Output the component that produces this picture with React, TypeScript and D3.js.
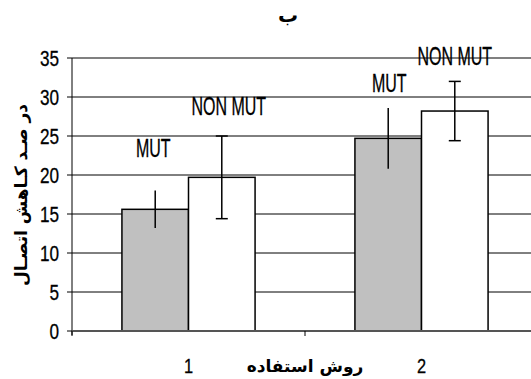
import React from 'react';
import * as d3 from 'd3';

const width = 531;
const height = 379;
const margin = { top: 58, right: -7, bottom: 48, left: 72 };

// data
const categories = ['1', '2'];
const seriesNames = ['MUT', 'NON MUT'];
const mutValues = [15.6, 24.7];
const nonMutValues = [19.7, 28.2];
const mutErrors = [2.4, 3.9];
const nonMutErrors = [5.3, 3.8];
const yTicks = [0, 5, 10, 15, 20, 25, 30, 35];

const title = 'ب';
const yTitle = 'در صـد کـاهش اتصـال';
const xTitle = 'روش استفاده';

const series = [
  { name: seriesNames[0], values: mutValues, errors: mutErrors, fill: '#c0c0c0', caps: false },
  { name: seriesNames[1], values: nonMutValues, errors: nonMutErrors, fill: '#ffffff', caps: true },
];
// label placement: pixels above the error bar top, and x shift
const labelLift = [[34, 21], [16, 16]];
const labelShift = [[-2, 7], [1, 0]];

const font = '"Liberation Sans", Arial, sans-serif';
const arabicFont = '"DejaVu Sans", sans-serif';

// Arial Narrow look: squeeze the text horizontally
const Narrow = ({ x, y, size, squeeze, anchor, children }: any) => (
  <g transform={`translate(${x},${y}) scale(${squeeze},1)`}>
    <text textAnchor={anchor || 'middle'} fontFamily={font} fontSize={size} stroke="#000" strokeWidth={0.3}>{children}</text>
  </g>
);

const App = () => {
  const plotW = width - margin.left - margin.right;
  const x0 = d3.scaleBand().domain(categories).range([margin.left, margin.left + plotW]).padding(0);
  const x1 = d3.scaleBand().domain(seriesNames).range([0, x0.bandwidth()]).paddingInner(0).paddingOuter(0.75);
  const y = d3.scaleLinear().domain([0, 35]).range([height - margin.bottom, margin.top]);

  const xEnd = margin.left + plotW;
  return (
    <svg width={width} height={height} style={{ position: 'absolute', left: 0, top: 0, background: '#fff' }}>
      <text x={288} y={22} textAnchor="middle" fontFamily={arabicFont} fontWeight="bold" fontSize={20}>{title}</text>

      {/* grid */}
      {yTicks.filter(t => t > 0 && t < 35).map(t => (
        <line key={t} x1={margin.left} x2={xEnd} y1={y(t)} y2={y(t)} stroke="#000" strokeWidth={1} />
      ))}
      <line x1={margin.left} x2={xEnd} y1={y(35)} y2={y(35)} stroke="#808080" strokeWidth={2} />

      {/* bars */}
      {series.map((s, si) => categories.map((c, ci) => {
        const bx = x0(c)! + x1(s.name)!;
        const v = s.values[ci];
        return (
          <rect key={`${si}-${ci}`} x={bx} y={y(v)} width={x1.bandwidth()} height={y(0) - y(v)}
            fill={s.fill} stroke="#000" strokeWidth={1.5} />
        );
      }))}

      {/* error bars */}
      {series.map((s, si) => categories.map((c, ci) => {
        const cx = x0(c)! + x1(s.name)! + x1.bandwidth() / 2;
        const v = s.values[ci];
        const e = s.errors[ci];
        return (
          <g key={`e${si}-${ci}`} stroke="#000" strokeWidth={1.5}>
            <line x1={cx} x2={cx} y1={y(v + e)} y2={y(v - e)} />
            {s.caps && <line x1={cx - 6} x2={cx + 6} y1={y(v + e)} y2={y(v + e)} />}
            {s.caps && <line x1={cx - 6} x2={cx + 6} y1={y(v - e)} y2={y(v - e)} />}
          </g>
        );
      }))}

      {/* value labels */}
      {series.map((s, si) => categories.map((c, ci) => {
        const cx = x0(c)! + x1(s.name)! + x1.bandwidth() / 2;
        const top = y(s.values[ci] + s.errors[ci]);
        return (
          <Narrow key={`l${si}-${ci}`} x={cx + labelShift[ci][si]} y={top - labelLift[ci][si]} size={25} squeeze={0.64}>
            {s.name}
          </Narrow>
        );
      }))}

      {/* y axis */}
      <line x1={margin.left} x2={margin.left} y1={y(35)} y2={y(0) + 4} stroke="#000" strokeWidth={1} />
      {yTicks.map(t => (
        <g key={t}>
          <line x1={margin.left - 5} x2={margin.left} y1={y(t)} y2={y(t)} stroke="#000" />
          <Narrow x={59} y={y(t) + 7.5} size={22} squeeze={0.78} anchor="end">{t}</Narrow>
        </g>
      ))}

      {/* x axis */}
      <line x1={margin.left} x2={xEnd} y1={y(0)} y2={y(0)} stroke="#555" strokeWidth={2} />
      {[...categories.map(c => x0(c)!), xEnd].map((t, i) => (
        <line key={i} x1={t} x2={t} y1={y(0)} y2={y(0) + 5} stroke="#000" />
      ))}
      {categories.map(c => (
        <Narrow key={c} x={x0(c)! + x0.bandwidth() / 2} y={373} size={21} squeeze={0.78}>{c}</Narrow>
      ))}
      <text x={305} y={372} textAnchor="middle" fontFamily={arabicFont} fontWeight="bold" fontSize={17}>{xTitle}</text>
      <text transform={`translate(27,195) rotate(-90)`} textAnchor="middle" fontFamily={arabicFont} fontWeight="bold" fontSize={17}>{yTitle}</text>
    </svg>
  );
};

export default App;
